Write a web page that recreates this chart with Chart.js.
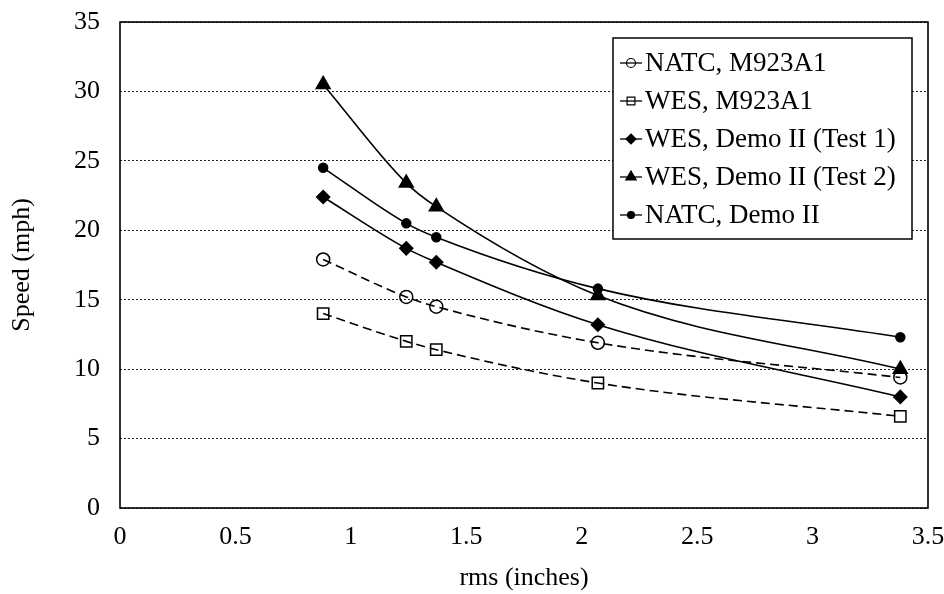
<!DOCTYPE html>
<html>
<head>
<meta charset="utf-8">
<script src="https://cdn.jsdelivr.net/npm/chart.js@4.4.1/dist/chart.umd.min.js"></script>
<style>
  html, body { margin: 0; padding: 0; background: #fff; }
  #c { display: block; }
</style>
</head>
<body>
<canvas id="c" width="944" height="594"></canvas>
<script>
// ---- data ----
const rmsValues = [0.88, 1.24, 1.37, 2.07, 3.38];
const seriesLabels = [
  "NATC, M923A1",
  "WES, M923A1",
  "WES, Demo II (Test 1)",
  "WES, Demo II (Test 2)",
  "NATC, Demo II"
];
const natcM923A1 = [17.9, 15.2, 14.5, 11.9, 9.4];
const wesM923A1 = [14.0, 12.0, 11.4, 9.0, 6.6];
const wesDemoTest1 = [22.4, 18.7, 17.7, 13.2, 8.0];
const wesDemoTest2 = [30.5, 23.4, 21.7, 15.3, 10.0];
const natcDemo = [24.5, 20.5, 19.5, 15.8, 12.3];
const xTickValues = [0, 0.5, 1, 1.5, 2, 2.5, 3, 3.5];
const yTickValues = [0, 5, 10, 15, 20, 25, 30, 35];
const xAxisTitle = "rms (inches)";
const yAxisTitle = "Speed (mph)";

const FONT = "'Liberation Serif', 'Times New Roman', serif";

function pts(arr) { return rmsValues.map((x, i) => ({ x: x, y: arr[i] })); }

const styles = [
  { pointStyle: 'circle',   radius: 6.5, fill: 'rgba(0,0,0,0)', dash: [9, 5], lr: 4.5 },
  { pointStyle: 'rect',     radius: 8,   fill: 'rgba(0,0,0,0)', dash: [9, 5], lr: 5.5 },
  { pointStyle: 'rectRot',  radius: 6.5, fill: '#000',          dash: [],     lr: 5 },
  { pointStyle: 'triangle', radius: 8,   fill: '#000',          dash: [],     lr: 6 },
  { pointStyle: 'circle',   radius: 4.5, fill: '#000',          dash: [],     lr: 3.5 }
];
const seriesData = [natcM923A1, wesM923A1, wesDemoTest1, wesDemoTest2, natcDemo];

const datasets = seriesData.map((arr, i) => ({
  label: seriesLabels[i],
  data: pts(arr),
  showLine: true,
  cubicInterpolationMode: 'monotone',
  borderColor: '#000',
  borderWidth: 1.6,
  borderDash: styles[i].dash,
  pointStyle: styles[i].pointStyle,
  pointRadius: styles[i].radius,
  pointHoverRadius: styles[i].radius,
  pointBackgroundColor: styles[i].fill,
  pointBorderColor: '#000',
  pointBorderWidth: 1.5
}));

const frameAndLegend = {
  id: 'frameAndLegend',
  afterDatasetsDraw(chart) {
    const ctx = chart.ctx;
    const a = chart.chartArea;
    ctx.save();
    ctx.strokeStyle = '#000';
    ctx.lineWidth = 1.6;
    ctx.setLineDash([]);
    ctx.strokeRect(a.left, a.top, a.right - a.left, a.bottom - a.top);

    // legend box
    const lx = 613, ly = 38, lw = 299, lh = 201;
    ctx.fillStyle = '#fff';
    ctx.fillRect(lx, ly, lw, lh);
    ctx.lineWidth = 1.5;
    ctx.strokeRect(lx, ly, lw, lh);

    ctx.font = "27px " + FONT;
    ctx.textBaseline = 'middle';
    ctx.textAlign = 'left';
    chart.data.datasets.forEach((ds, i) => {
      const y = ly + 25 + i * 38;
      ctx.strokeStyle = '#000';
      ctx.lineWidth = 1.3;
      ctx.beginPath();
      ctx.moveTo(620, y);
      ctx.lineTo(642, y);
      ctx.stroke();
      ctx.fillStyle = styles[i].fill;
      ctx.lineWidth = 1.2;
      if (Chart.helpers && Chart.helpers.drawPoint) {
        Chart.helpers.drawPoint(ctx, { pointStyle: styles[i].pointStyle, radius: styles[i].lr, rotation: 0, borderWidth: 1.2 }, 631, y);
      }
      ctx.fillStyle = '#000';
      ctx.fillText(ds.label, 645, y + 1);
    });
    ctx.restore();
  }
};

new Chart(document.getElementById('c'), {
  type: 'scatter',
  data: { datasets: datasets },
  plugins: [frameAndLegend],
  options: {
    responsive: false,
    animation: false,
    devicePixelRatio: 1,
    layout: { padding: { left: 0, right: 16, top: 22, bottom: 0 } },
    plugins: { legend: { display: false }, tooltip: { enabled: false } },
    scales: {
      x: {
        type: 'linear',
        min: 0, max: 3.5,
        afterBuildTicks(scale) { scale.ticks = xTickValues.map(v => ({ value: v })); },
        afterFit(scale) { scale.height = 86; scale.paddingLeft = 0; scale.paddingRight = 0; },
        grid: { display: false, drawTicks: false },
        border: { display: false },
        ticks: { color: '#000', padding: 14, maxRotation: 0, font: { family: FONT, size: 26 },
                 callback: (v) => String(v) },
        title: { display: true, text: xAxisTitle, color: '#000', padding: { top: 0, bottom: 0 }, font: { family: FONT, size: 26 } }
      },
      y: {
        type: 'linear',
        min: 0, max: 35,
        afterBuildTicks(scale) { scale.ticks = yTickValues.map(v => ({ value: v })); },
        afterFit(scale) { scale.width = 120; scale.paddingTop = 0; scale.paddingBottom = 0; },
        grid: { color: '#222', lineWidth: 1, drawTicks: false },
        border: { display: false, dash: [2, 2] },
        ticks: { color: '#000', padding: 20, font: { family: FONT, size: 26 }, callback: (v) => String(v) },
        title: { display: true, text: yAxisTitle, color: '#000', padding: { top: 7, bottom: 0 }, font: { family: FONT, size: 26 } }
      }
    }
  }
});
</script>
</body>
</html>
